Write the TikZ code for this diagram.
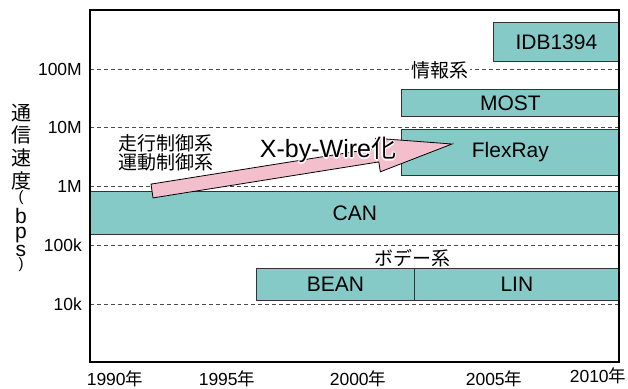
\documentclass[tikz,border=0pt]{standalone}
\usepackage{fontspec}
\setmainfont{Liberation Sans}
\newfontfamily\cjk{Noto Sans CJK JP}
\definecolor{tealbar}{HTML}{86CAC8}
\definecolor{pinkarrow}{HTML}{F4BFCC}
\newcommand\xbwtext{X-by-Wire{\cjk 化}}
\begin{document}
\begin{tikzpicture}[x=1pt,y=-1pt,
  bar/.style={draw=black!80, line width=0.8pt, fill=tealbar, inner sep=0pt, anchor=north west, font=\fontsize{21}{24}\selectfont},
  gridline/.style={dash pattern=on 4pt off 3pt, draw=black!70, line width=0.9pt},
  tick/.style={anchor=east, inner sep=0pt, font=\fontsize{17.5}{20}\selectfont},
  year/.style={inner sep=0pt, font=\fontsize{17.5}{20}\selectfont},
  jlabel/.style={inner sep=1pt, font=\fontsize{19}{22}\selectfont\cjk},
  ychar/.style={inner sep=0pt, font=\fontsize{20}{22}\selectfont\cjk},
  bigtext/.style={inner sep=0pt, font=\fontsize{25}{28}\selectfont},
]
\useasboundingbox (0,0) rectangle (628,388);
% grid lines
\foreach \n/\y in {a/69,b/127,c/186,d/245,e/304}{
  \coordinate (gl\n) at (90,\y);
  \coordinate (gr\n) at (619,\y);
  \draw[gridline] (gl\n) -- (gr\n);
}
% bars
\node[bar, minimum width=126pt, minimum height=39pt] (idb) at (493,22) {IDB1394};
\node[bar, minimum width=218pt, minimum height=27pt] (most) at (401,89) {MOST};
\node[bar, minimum width=218pt, minimum height=46pt] (flex) at (401,129) {FlexRay};
\node[bar, minimum width=529pt, minimum height=43pt] (can) at (90,191) {CAN};
\node[bar, minimum width=158pt, minimum height=32pt] (bean) at (256,268) {BEAN};
\node[bar, minimum width=205pt, minimum height=32pt] (lin) at (414,268) {LIN};
% frame
\draw[line width=2pt] (90,10) rectangle (619,362);
% tick labels
\node[tick] (t100M) at (82,69) {100M};
\node[tick] (t10M) at (82,127) {10M};
\node[tick] (t1M) at (82,186) {1M};
\node[tick] (t100k) at (82,245) {100k};
\node[tick] (t10k) at (82,304) {10k};
% years
\node[year] (y1990) at (115,379) {1990{\cjk 年}};
\node[year] (y1995) at (227,379) {1995{\cjk 年}};
\node[year] (y2000) at (358,379) {2000{\cjk 年}};
\node[year] (y2005) at (494,379) {2005{\cjk 年}};
\node[year] (y2010) at (598,376) {2010{\cjk 年}};
% category labels
\node[jlabel, fill=white] (info) at (440,70) {情報系};
\node[jlabel] (body) at (412,258) {ボデー系};
\node[jlabel, anchor=west, inner sep=0pt] (ctl1) at (118,143) {走行制御系};
\node[jlabel, anchor=west, inner sep=0pt] (ctl2) at (118,162) {運動制御系};
% y axis label
\node[ychar] (ya) at (21,113) {通};
\node[ychar] (yb) at (21,135) {信};
\node[ychar] (yc) at (21,158) {速};
\node[ychar] (yd) at (21,181) {度};
\node[inner sep=0pt, font=\fontsize{15}{17}\selectfont] (ye) at (21,198) {(};
\node[inner sep=0pt, font=\fontsize{21}{22}\selectfont] (yf) at (21,216) {b};
\node[inner sep=0pt, font=\fontsize{21}{22}\selectfont] (yg) at (21,235) {p};
\node[inner sep=0pt, font=\fontsize{21}{22}\selectfont] (yh) at (21,251) {s};
\node[inner sep=0pt, font=\fontsize{15}{17}\selectfont] (yi) at (21,265) {)};
% arrow
\coordinate (a1) at (153,197.9);
\coordinate (a2) at (378.8,161.9);
\coordinate (a3) at (380.3,171.8);
\coordinate (a4) at (452,144);
\coordinate (a5) at (375.3,138.2);
\coordinate (a6) at (376.8,148.1);
\coordinate (a7) at (151,184.1);
\draw[line width=0.8pt, fill=pinkarrow, line join=miter] (a1) -- (a2) -- (a3) -- (a4) -- (a5) -- (a6) -- (a7) -- cycle;
% X-by-Wire text with white halo
\foreach \dx/\dy in {1.3/0,-1.3/0,0/1.3,0/-1.3,0.9/0.9,-0.9/0.9,0.9/-0.9,-0.9/-0.9}{
  \node[bigtext, text=white] at (328+\dx,150+\dy) {\xbwtext};
}
\node[bigtext] (xbw) at (328,150) {\xbwtext};
\end{tikzpicture}
\end{document}
